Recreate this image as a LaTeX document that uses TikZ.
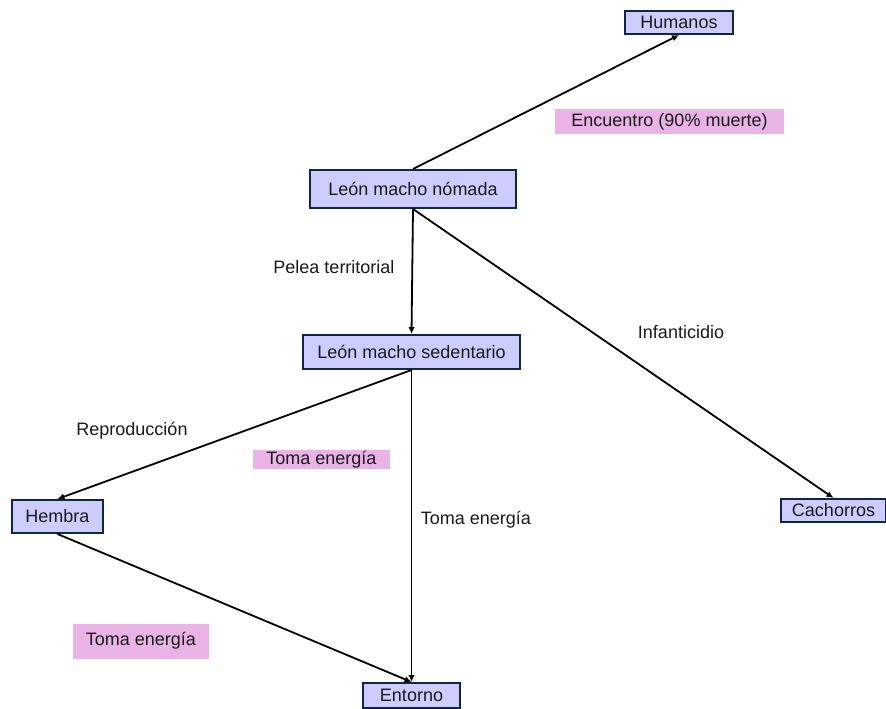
\documentclass[tikz,border=0pt]{standalone}
\usepackage{fontspec}
\setmainfont{Liberation Sans}
\usetikzlibrary{arrows.meta}
\definecolor{lavanda}{HTML}{CCCCFF}
\definecolor{bordo}{HTML}{0E2841}
\definecolor{rosa}{HTML}{E9B3E6}
\definecolor{tinta}{HTML}{1A1A1A}
\begin{document}
\begin{tikzpicture}[x = 1pt, y = -1pt, font = \fontsize{18}{21}\selectfont, text = tinta,
    caja/.style = {draw = bordo, fill = lavanda, line width = 2pt, inner sep = 0pt},
    etiqueta/.style = {fill = rosa, inner sep = 0pt},
    flecha/.style = {-{Latex[length = 7pt, width = 6.5pt]}, line width = 1.8pt}]
    % Marco
    \useasboundingbox (0,0) rectangle (886,709);
    % Cajas
    \node[caja, minimum width = 108pt, minimum height = 23pt] (humanos) at (679,22.5) {Humanos};
    \node[caja, minimum width = 206pt, minimum height = 38pt] (nomada) at (413,189) {León macho nómada};
    \node[caja, minimum width = 217pt, minimum height = 34pt] (sedentario) at (411.5,352) {León macho sedentario};
    \node[caja, minimum width = 91pt, minimum height = 33pt] (hembra) at (57.5,516.5) {Hembra};
    \node[caja, minimum width = 105pt, minimum height = 23pt] (cachorros) at (833.5,510.5) {Cachorros};
    \node[caja, minimum width = 97pt, minimum height = 25pt] (entorno) at (411.5,695.5) {Entorno};
    % Etiquetas
    \node[etiqueta, minimum width = 229pt, minimum height = 25pt] (encuentro) at (669.5,121.5) {Encuentro (90\% muerte)};
    \node[etiqueta, minimum width = 137pt, minimum height = 19pt] (toma1) at (321.5,459.5) {Toma energía};
    \node[etiqueta, minimum width = 136pt, minimum height = 35pt] (toma2) at (141,641) {Toma energía};
    \node (pelea) at (334,267) {Pelea territorial};
    \node (infanticidio) at (681,332) {Infanticidio};
    \node (reproduccion) at (132,431) {Reproducción};
    \node (toma3) at (476,520) {Toma energía};
    % Flechas
    \draw[flecha] (nomada.north) -- (humanos.south);
    \draw[flecha] (nomada.south) -- (sedentario.north);
    \draw[flecha] (nomada.south) -- (cachorros.north);
    \draw[flecha] (sedentario.south) -- (hembra.north);
    \draw[flecha] (sedentario.south) -- (entorno.north);
    \draw[flecha] (hembra.south) -- (entorno.north);
\end{tikzpicture}
\end{document}
